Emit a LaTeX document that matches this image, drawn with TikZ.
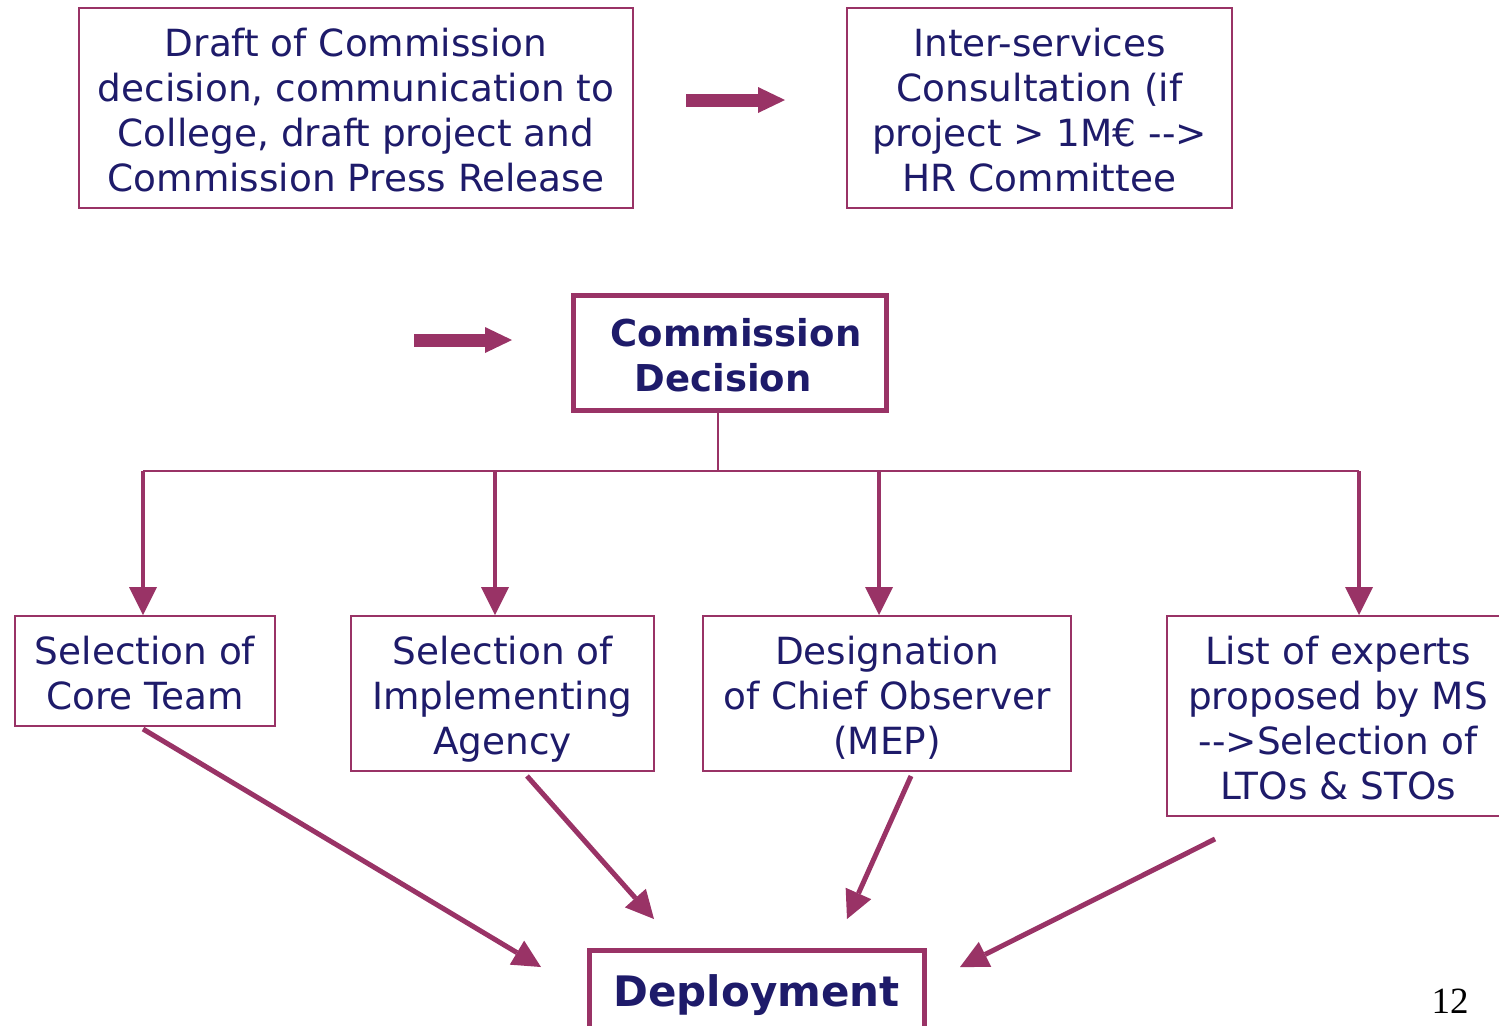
\documentclass[tikz,border=0pt]{standalone}
\usepackage{fontspec}
\setmainfont{DejaVu Sans}
\newfontfamily\numfont{Liberation Serif}
\usetikzlibrary{arrows.meta}
\definecolor{mag}{RGB}{153,51,102}
\definecolor{navy}{RGB}{30,27,106}
\newcommand\ddash{\mbox{-}\mbox{-}}
\newcommand\firststrut{\rule{0pt}{20.5pt}}
\newcommand\laststrut{\rule[-4.5pt]{0pt}{4.5pt}}
\begin{document}
\begin{tikzpicture}[x=0.5pt,y=-0.5pt,
  box/.style={draw=mag, line width=1pt, text=navy, align=center, inner sep=0pt,
    font=\fontsize{18.7}{22.5}\selectfont},
  boldbox/.style={box, line width=2.5pt, font=\fontsize{18.5}{22.5}\selectfont\bfseries},
  blockarrow/.style={draw=mag, line width=6.5pt, -{Triangle[length=13.5pt,width=13pt,line width=0pt]}},
  link/.style={draw=mag, line width=1pt},
  downarrow/.style={draw=mag, line width=2pt, -{Triangle[length=14pt,width=14pt,line width=0pt]}},
  diagarrow/.style={draw=mag, line width=2.5pt, -{Triangle[length=14pt,width=14pt,line width=0pt]}}]
\useasboundingbox (0,0) rectangle (1499,1025);

% top row
\node[box, minimum width=277pt, minimum height=100pt] (draft) at (356,108)
  {\firststrut Draft of Commission\\decision, communication to\\College, draft project and\\Commission Press Release\laststrut};
\node[box, minimum width=192.5pt, minimum height=100pt] (isc) at (1039.5,108)
  {\firststrut Inter-services\\Consultation (if\\project > 1M€ \ddash>\\HR Committee\laststrut};

% decision
\node[boldbox, minimum width=156.5pt, minimum height=57.5pt] (cd) at (729.5,352.5)
  {\firststrut\hspace{0.35em}Commission\\Decision\hspace{0.35em}\laststrut};

% second row
\node[box, minimum width=130pt, minimum height=55pt] (core) at (145,671)
  {\firststrut Selection of\\Core Team\laststrut};
\node[box, minimum width=151.5pt, minimum height=77.5pt] (agency) at (502.5,693.5)
  {\firststrut Selection of\\Implementing\\Agency\laststrut};
\node[box, minimum width=184pt, minimum height=77.5pt] (chief) at (887,693.5)
  {\firststrut Designation\\of Chief Observer\\(MEP)\laststrut};
\node[box, minimum width=171pt, minimum height=100pt] (list) at (1338,716)
  {\firststrut List of experts\\proposed by MS\\\ddash>Selection of\\LTOs \& STOs\laststrut};

% deployment
\node[boldbox, font=\fontsize{21}{24}\selectfont\bfseries,
  minimum width=167.5pt, minimum height=43pt] (dep) at (756.5,993)
  {\rule{0pt}{18pt}Deployment};

\node[font=\numfont\fontsize{18.5}{20}\selectfont, text=black, inner sep=0pt] (pg) at (1450,1001) {12};

% block arrows
\coordinate (a1s) at (686,100);
\coordinate (a1e) at (785,100);
\coordinate (a2s) at (414,340);
\coordinate (a2e) at (512,340);
\draw[blockarrow] (a1s) -- (a1e);
\draw[blockarrow] (a2s) -- (a2e);

% tree
\coordinate (j) at (718,471);
\coordinate (t1) at (143,471);
\coordinate (t2) at (495,471);
\coordinate (t3) at (879,471);
\coordinate (t4) at (1359,471);
\draw[link] (j |- cd.south) -- (j);
\draw[link] (t1) -- (t4);
\draw[downarrow] (t1) -- (t1 |- core.north);
\draw[downarrow] (t2) -- (t2 |- agency.north);
\draw[downarrow] (t3) -- (t3 |- chief.north);
\draw[downarrow] (t4) -- (t4 |- list.north);

% to deployment
\coordinate (s1) at (143,729);
\coordinate (s2) at (527,776);
\coordinate (s3) at (911,776);
\coordinate (s4) at (1215,839);
\coordinate (e1) at (541,967);
\coordinate (e2) at (654,919);
\coordinate (e3) at (847,919);
\coordinate (e4) at (960,967);
\draw[diagarrow] (s1) -- (e1);
\draw[diagarrow] (s2) -- (e2);
\draw[diagarrow] (s3) -- (e3);
\draw[diagarrow] (s4) -- (e4);
\end{tikzpicture}
\end{document}
